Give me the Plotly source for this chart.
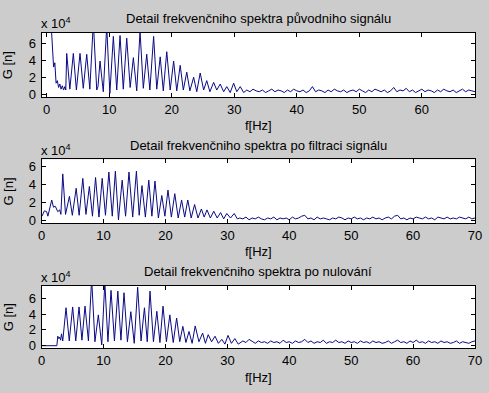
import numpy as np
import plotly.graph_objects as go

# ---------------- data (G values in units of 10^4) ----------------
# Plot 1: original spectrum, main part (f in Hz)
F1_MAIN = [0.65, 0.95, 1.1, 1.3, 1.5, 1.7, 1.9, 2.1, 2.3, 2.5, 2.7, 2.9, 3.05,
           3.2, 3.7, 4.26, 4.75, 5.33, 5.85, 6.4, 6.9, 7.46, 8.0, 8.2, 8.53, 9.05,
           9.6, 10.1, 10.66, 11.2, 11.73, 12.25, 12.8, 13.35, 13.86, 14.4, 14.93,
           15.45, 16.0, 16.5, 17.1, 17.6, 18.15, 18.65, 19.2, 19.75, 20.3, 20.8,
           21.35, 21.85, 22.4, 22.9, 23.5, 24.0, 24.55, 25.1, 25.6, 26.1, 26.7,
           27.2, 27.75, 28.3, 28.8, 29.35, 29.9, 30.4, 30.95, 31.5]
G1_MAIN = [9.0, 3.9, 3.2, 3.7, 1.3, 1.6, 0.8, 1.2, 0.6, 1.0, 0.5, 0.9, 0.5,
           4.8, 0.6, 4.8, 0.5, 4.8, 0.7, 4.7, 0.6, 8.5, 0.5, 0.9, 3.9, 0.3,
           8.0, 0.1, 6.8, 0.5, 6.9, 0.6, 6.6, 0.8, 4.3, 0.4, 7.4,
           0.7, 4.7, 0.5, 6.8, 0.6, 4.4, 0.4, 5.0, 0.5, 3.9, 0.4,
           3.4, 0.5, 2.6, 0.4, 2.0, 0.3, 2.5, 0.5, 1.6, 0.3, 1.4,
           0.5, 1.2, 0.3, 0.9, 0.2, 1.3, 0.3, 0.9, 0.2]
F1_TAIL_START, F1_TAIL_STEP = 32.0, 0.5
G1_TAIL = [0.5, 0.3, 0.6, 0.4, 0.3, 0.5, 0.2, 0.4, 0.6, 0.3,
           0.5, 0.4, 0.2, 0.5, 0.3, 0.6, 0.4, 0.3, 0.5, 0.2,
           0.4, 0.9, 0.3, 0.5, 0.4, 0.2, 0.5, 0.3, 0.6, 0.4,
           0.3, 0.5, 0.2, 0.4, 0.5, 0.3, 0.6, 0.4, 0.2, 0.5,
           0.3, 0.6, 0.4, 0.3, 0.5, 0.2, 0.4, 0.8, 0.3, 0.5,
           0.4, 0.7, 0.3, 0.5, 0.2, 0.4, 0.6, 0.3, 0.5, 0.4,
           0.2, 0.5, 0.3, 0.6, 0.4, 0.3, 0.5, 0.2, 0.4, 0.6,
           0.3, 0.5, 0.4, 0.3]

# Plot 2: filtered spectrum
F2_MAIN = [0.05, 0.44, 0.8, 1.0, 1.62, 1.9, 2.2, 2.6, 2.9, 3.1, 3.4, 3.85, 4.48,
           4.95, 5.57, 6.05, 6.64, 7.15, 7.7, 8.2, 8.7, 9.25, 9.77, 10.3, 10.85,
           11.4, 11.9, 12.4, 13.0, 13.55, 14.1, 14.7, 15.3, 15.75, 16.2, 16.75,
           17.3, 17.8, 18.3, 18.85, 19.4, 19.9, 20.4, 20.95, 21.5, 22.05, 22.6,
           23.1, 23.6, 24.15, 24.7, 25.25, 25.8, 26.25, 26.7, 27.25, 27.8, 28.35,
           28.9, 29.4, 29.9, 30.5, 31.1, 31.6]
G2_MAIN = [0.5, 1.1, 1.0, 0.5, 2.3, 1.5, 1.6, 1.0, 1.2, 0.7, 5.2, 0.7, 2.7,
           0.6, 3.6, 0.6, 4.7, 0.7, 3.8, 0.5, 4.8, 0.4, 4.7, 0.6, 5.4,
           0.5, 5.5, 0.1, 4.5, 0.5, 5.4, 0.4, 5.5, 0.6, 3.9, 0.4,
           4.5, 0.5, 4.4, 0.3, 2.8, 0.5, 3.4, 0.4, 3.0, 0.3, 2.3,
           0.4, 2.3, 0.3, 1.8, 0.3, 1.3, 0.4, 1.2, 0.3, 1.05, 0.3,
           0.9, 0.2, 0.8, 0.3, 0.8, 0.2]
F2_TAIL_START, F2_TAIL_STEP = 32.0, 0.5
G2_TAIL = [0.3, 0.2, 0.4, 0.1, 0.3, 0.2, 0.4, 0.2, 0.1, 0.3,
           0.2, 0.4, 0.1, 0.3, 0.2, 0.3, 0.1, 0.4, 0.2, 0.3,
           0.5, 0.6, 0.2, 0.3, 0.1, 0.4, 0.2, 0.3, 0.2, 0.1,
           0.3, 0.2, 0.4, 0.3, 0.1, 0.3, 0.2, 0.4, 0.2, 0.3,
           0.1, 0.3, 0.2, 0.4, 0.2, 0.3, 0.1, 0.3, 0.4, 0.2,
           0.5, 0.6, 0.2, 0.3, 0.1, 0.3, 0.2, 0.4, 0.3, 0.2,
           0.4, 0.2, 0.3, 0.1, 0.4, 0.3, 0.2, 0.4, 0.2, 0.3,
           0.2, 0.4, 0.3, 0.2, 0.4, 0.2, 0.3]

# Plot 3: spectrum after zeroing
F3_MAIN = [0.0, 2.45, 2.6, 2.75, 2.9, 3.05, 3.2, 3.4, 3.93, 4.45, 5.0, 5.5, 6.03,
           6.5, 7.0, 7.55, 8.07, 8.6, 9.15, 9.7, 10.2, 10.7, 11.2, 11.75, 12.3,
           12.8, 13.3, 13.85, 14.4, 14.95, 15.5, 16.05, 16.6, 17.05, 17.5, 18.05,
           18.6, 19.1, 19.6, 20.15, 20.7, 21.25, 21.8, 22.3, 22.8, 23.3, 23.8,
           24.3, 24.8, 25.4, 26.0, 26.45, 26.9, 27.45, 28.0, 28.55, 29.1, 29.6,
           30.1, 30.65, 31.2, 31.75]
G3_MAIN = [0.0, 0.0, 1.2, 0.9, 1.1, 0.7, 1.5, 0.6, 4.8, 0.6, 4.9, 0.6, 4.9,
           0.7, 5.0, 0.6, 8.5, 0.5, 3.9, 0.1, 8.0, 0.5, 7.0, 0.6, 6.9,
           0.7, 6.7, 0.5, 4.3, 0.3, 7.4, 0.6, 4.8, 0.5, 6.9, 0.5,
           4.35, 0.4, 5.0, 0.5, 3.9, 0.4, 3.5, 0.5, 2.45, 0.4, 1.8,
           0.3, 2.5, 0.5, 1.6, 0.3, 1.4, 0.5, 1.2, 0.3, 0.8, 0.2,
           1.3, 0.3, 0.9, 0.2]
F3_TAIL_START, F3_TAIL_STEP = 32.5, 0.5
G3_TAIL = [0.6, 0.4, 0.8, 0.5, 0.3, 0.6, 0.4, 0.5, 0.3, 0.6,
           0.4, 0.5, 0.3, 0.7, 0.4, 0.5, 0.3, 0.6, 0.4, 0.5,
           0.8, 0.4, 0.6, 0.3, 0.5, 0.4, 0.7, 0.3, 0.5, 0.4,
           0.7, 0.4, 0.5, 0.3, 0.6, 0.4, 0.5, 0.3, 0.6, 0.4,
           0.5, 0.3, 0.6, 0.4, 0.5, 0.3, 0.4, 0.6, 0.3, 0.5,
           0.7, 0.4, 0.5, 0.3, 0.6, 0.4, 0.7, 0.4, 0.5, 0.3,
           0.6, 0.4, 0.5, 0.3, 0.6, 0.4, 0.5, 0.3, 0.4, 0.6,
           0.3, 0.5, 0.4, 0.3, 0.5, 0.6]

TITLES = ["Detail frekvenčniho spektra původniho signálu",
          "Detail frekvenčniho spektra po filtraci signálu",
          "Detail frekvenčniho spektra po nulování"]
X_TICKS = [[0, 10, 20, 30, 40, 50, 60], [0, 10, 20, 30, 40, 50, 60, 70],
           [0, 10, 20, 30, 40, 50, 60, 70]]
Y_TICKS = [0, 2, 4, 6]
X_RANGES = [[-0.8, 68.5], [0, 70], [0, 70]]
Y_RANGES = [[-0.32, 7.2], [-0.29, 6.82], [-0.33, 7.59]]
X_LABEL = "f[Hz]"
Y_LABEL = "G [n]"
SCALE_LABEL = "x 10<sup>4</sup>"

# ---------------- layout geometry (pixels in 489x393) ----------------
W, H = 489, 393
AX_LEFT, AX_RIGHT = 41.7, 475.0
AX_TB = [(33.0, 97.0), (159.3, 223.3), (285.7, 348.3)]
TITLE_Y = [18.3, 145.0, 271.0]
SCALE_Y = [22.5, 149.5, 276.5]
XLABEL_Y = [125.0, 251.5, 377.5]

LINE_COLOR = "#0a0a84"
BG = "#cccccc"
FONT = "Liberation Sans, Arial, Helvetica, sans-serif"
FS = 13


def px_x(x):
    return x / W


def px_y(y):
    return 1 - y / H


def series(fm, gm, t0, dt, gt):
    f = list(fm) + list(t0 + dt * np.arange(len(gt)))
    g = list(gm) + list(gt)
    return f, g


data = [series(F1_MAIN, G1_MAIN, F1_TAIL_START, F1_TAIL_STEP, G1_TAIL),
        series(F2_MAIN, G2_MAIN, F2_TAIL_START, F2_TAIL_STEP, G2_TAIL),
        series(F3_MAIN, G3_MAIN, F3_TAIL_START, F3_TAIL_STEP, G3_TAIL)]

fig = go.Figure()
annotations = []
for i, (f, g) in enumerate(data):
    sfx = "" if i == 0 else str(i + 1)
    fig.add_trace(go.Scatter(x=f, y=g, mode="lines",
                             line=dict(color=LINE_COLOR, width=1),
                             xaxis="x" + sfx, yaxis="y" + sfx,
                             showlegend=False, hoverinfo="skip"))
    top, bot = AX_TB[i]
    common = dict(showline=True, linecolor="black", linewidth=1, mirror="allticks",
                  ticks="inside", ticklen=4, tickcolor="black", showgrid=False,
                  zeroline=False, automargin=False,
                  tickfont=dict(family=FONT, size=FS, color="black"))
    fig.update_layout(**{
        "xaxis" + sfx: dict(domain=[px_x(AX_LEFT), px_x(AX_RIGHT)],
                            range=X_RANGES[i], tickvals=X_TICKS[i],
                            anchor="y" + sfx, **common),
        "yaxis" + sfx: dict(domain=[px_y(bot), px_y(top)], range=Y_RANGES[i],
                            tickvals=Y_TICKS, anchor="x" + sfx,
                            ticklabelstandoff=2, **common),
    })
    cx = px_x((AX_LEFT + AX_RIGHT) / 2)
    annotations += [
        dict(text=TITLES[i], x=cx, y=px_y(TITLE_Y[i]), xref="paper", yref="paper",
             showarrow=False, xanchor="center", yanchor="middle",
             font=dict(family=FONT, size=FS, color="black")),
        dict(text=SCALE_LABEL, x=px_x(38.5), y=px_y(SCALE_Y[i]), xref="paper",
             yref="paper", showarrow=False, xanchor="left", yanchor="middle",
             font=dict(family=FONT, size=FS, color="black")),
        dict(text=X_LABEL, x=cx, y=px_y(XLABEL_Y[i]), xref="paper", yref="paper",
             showarrow=False, xanchor="center", yanchor="middle",
             font=dict(family=FONT, size=FS, color="black")),
        dict(text=Y_LABEL, x=px_x(8.3), y=px_y((top + bot) / 2), xref="paper",
             yref="paper", showarrow=False, xanchor="center", yanchor="middle",
             textangle=-90, font=dict(family=FONT, size=FS, color="black")),
    ]

fig.update_layout(width=W, height=H, margin=dict(l=0, r=0, t=0, b=0),
                  paper_bgcolor=BG, plot_bgcolor="white", template="none",
                  annotations=annotations, font=dict(family=FONT, size=FS))
fig.write_html("out.html", config={"displayModeBar": False},
               post_script="document.body.style.margin='0px';"
                           "document.body.style.overflow='hidden';"
                           "document.body.style.background='" + BG + "';")
